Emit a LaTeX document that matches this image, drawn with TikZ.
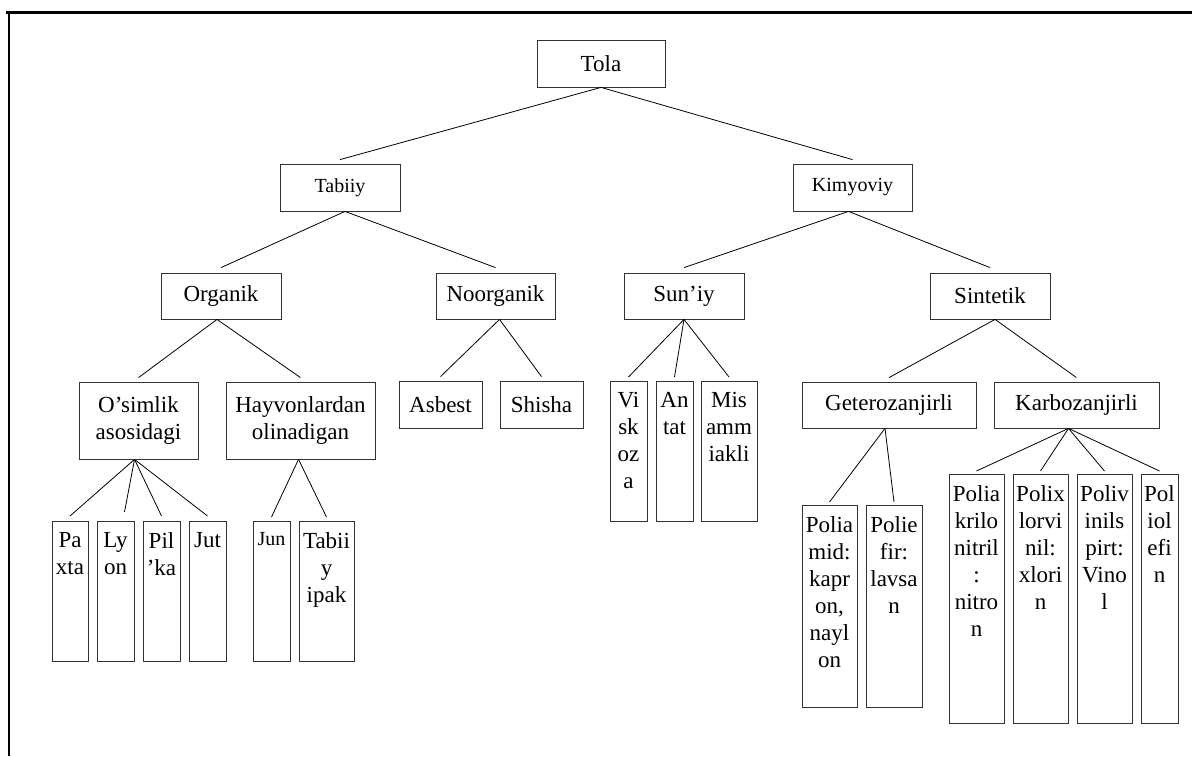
\documentclass[tikz,border=0pt]{standalone}
\usepackage{fontspec}
\setmainfont{Liberation Serif}
\tikzset{
  box/.style={draw=black!80, line width=0.8pt, inner sep=0pt, align=center, font=\fontsize{23}{27}\selectfont},
  small/.style={font=\fontsize{20}{24}\selectfont},
  tall/.style={box, anchor=north},
  inside/.style={anchor=north, inner sep=0pt, align=center, yshift=-11pt, font=\fontsize{23}{27}\selectfont},
  link/.style={line width=0.8pt},
}
\begin{document}
\begin{tikzpicture}[x=1pt, y=-1pt]
\useasboundingbox (0,0) rectangle (1192,756);
% frame
\draw[line width=3pt] (6,12) -- (1192,12);
\draw[line width=2pt] (8.5,12) -- (8.5,756);

% upper levels
\node[box, minimum width=128, minimum height=47] (tola) at (601,63.5) {Tola};
\node[box, small, minimum width=120, minimum height=47] (tabiiy) at (340,187.5) {Tabiiy};
\node[box, small, minimum width=119, minimum height=47] (kimyoviy) at (852.5,187.5) {Kimyoviy};
\node[box, minimum width=120, minimum height=46] (organik) at (221,296) {Organik};
\node[box, minimum width=119, minimum height=46] (noorganik) at (495.5,296) {Noorganik};
\node[box, minimum width=120, minimum height=46] (suniy) at (684,296) {Sun’iy};
\node[box, minimum width=120, minimum height=46] (sintetik) at (990,296) {Sintetik};
\node[box, minimum width=119, minimum height=77] (osimlik) at (138.5,420.5) {O’simlik\\asosidagi};
\node[box, minimum width=149, minimum height=77] (hayvon) at (300.5,420.5) {Hayvonlardan\\olinadigan};
\node[box, minimum width=83, minimum height=47] (asbest) at (440.5,404.5) {Asbest};
\node[box, minimum width=83, minimum height=47] (shisha) at (541.5,404.5) {Shisha};
\node[box, minimum width=174, minimum height=46] (getero) at (889,405) {Geterozanjirli};
\node[box, minimum width=165, minimum height=46] (karbo) at (1076.5,405) {Karbozanjirli};

% narrow boxes
\node[tall, minimum width=36, minimum height=140, label={[inside]north:Pa\\xta}] (paxta) at (70,521) {};
\node[tall, minimum width=37, minimum height=140, label={[inside]north:Ly\\on}] (lyon) at (115.5,521) {};
\node[tall, minimum width=37, minimum height=140, label={[inside]north:Pil\\’ka}] (pilka) at (161.5,521) {};
\node[tall, minimum width=37, minimum height=140, label={[inside]north:Jut}] (jut) at (207.5,521) {};
\node[tall, minimum width=37, minimum height=140, label={[inside, small]north:Jun}] (jun) at (271.5,521) {};
\node[tall, minimum width=55, minimum height=140, label={[inside]north:Tabii\\y\\ipak}] (ipak) at (326.5,521) {};
\node[tall, minimum width=37, minimum height=140, label={[inside]north:Vi\\sk\\oz\\a}] (viskoza) at (628.5,381) {};
\node[tall, minimum width=37, minimum height=140, label={[inside]north:An\\tat}] (antat) at (674.5,381) {};
\node[tall, minimum width=56, minimum height=140, label={[inside]north:Mis\\amm\\iakli}] (mis) at (729,381) {};
\node[tall, minimum width=55, minimum height=202, label={[inside]north:{Polia\\mid:\\kapr\\on,\\nayl\\on}}] (poliamid) at (829.5,505) {};
\node[tall, minimum width=56, minimum height=202, label={[inside]north:{Polie\\fir:\\lavsa\\n}}] (poliefir) at (894,505) {};
\node[tall, minimum width=55, minimum height=249, label={[inside]north:{Polia\\krilo\\nitril\\:\\nitro\\n}}] (poliakril) at (976.5,474) {};
\node[tall, minimum width=55, minimum height=249, label={[inside]north:{Polix\\lorvi\\nil:\\xlori\\n}}] (polixlor) at (1040.5,474) {};
\node[tall, minimum width=55, minimum height=249, label={[inside]north:{Poliv\\inils\\pirt:\\Vino\\l}}] (polivinil) at (1104.5,474) {};
\node[tall, minimum width=37, minimum height=249, label={[inside]north:{Pol\\iol\\efi\\n}}] (poliolefin) at (1159.5,474) {};

% connectors
\draw[link] (tola.south) -- ([yshift=4pt]tabiiy.north);
\draw[link] (tola.south) -- ([yshift=4pt]kimyoviy.north);
\draw[link] ([xshift=5pt]tabiiy.south) -- ([yshift=5pt]organik.north);
\draw[link] ([xshift=5pt]tabiiy.south) -- ([yshift=5pt]noorganik.north);
\draw[link] ([xshift=-4pt]kimyoviy.south) -- ([yshift=5pt]suniy.north);
\draw[link] ([xshift=-4pt]kimyoviy.south) -- ([yshift=5pt]sintetik.north);
\draw[link] ([xshift=-4pt]organik.south) -- ([yshift=4pt]osimlik.north);
\draw[link] ([xshift=-4pt]organik.south) -- ([yshift=4pt]hayvon.north);
\draw[link] ([xshift=4pt]noorganik.south) -- ([yshift=4pt]asbest.north);
\draw[link] ([xshift=4pt]noorganik.south) -- ([yshift=4pt]shisha.north);
\foreach \leaf in {viskoza,antat,mis}
  \draw[link] (suniy.south) -- ([yshift=4pt]\leaf.north);
\draw[link] ([xshift=5pt]sintetik.south) -- ([yshift=4pt]getero.north);
\draw[link] ([xshift=5pt]sintetik.south) -- ([yshift=4pt]karbo.north);
\foreach \leaf in {paxta,pilka,jut}
  \draw[link] ([xshift=-4pt]osimlik.south) -- ([yshift=5pt]\leaf.north);
\draw[link] ([xshift=-4pt]osimlik.south) -- ([xshift=9pt, yshift=9pt]lyon.north);
\foreach \leaf in {jun,ipak}
  \draw[link] ([xshift=-2pt]hayvon.south) -- ([yshift=4pt]\leaf.north);
\foreach \leaf in {poliamid,poliefir}
  \draw[link] ([xshift=-4pt]getero.south) -- ([yshift=3pt]\leaf.north);
\foreach \leaf in {poliakril,polixlor,polivinil,poliolefin}
  \draw[link] ([xshift=-8pt]karbo.south) -- ([yshift=3pt]\leaf.north);
\end{tikzpicture}
\end{document}
